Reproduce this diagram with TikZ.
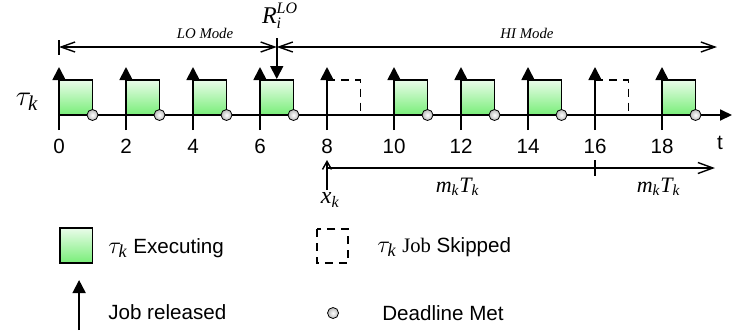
\documentclass[tikz,border=0pt]{standalone}
\usepackage{amsmath}
\usepackage{fontspec}
\setmainfont{Liberation Sans}
\newfontfamily\tms{Liberation Serif}
\usetikzlibrary{arrows.meta,positioning}
\newcommand\mi[1]{\text{\tms\itshape #1}}
\newcommand\tk{$\tau_{\mi{k}}$}
\definecolor{jgreen}{HTML}{78EE78}
\definecolor{jlight}{HTML}{EAFCEA}
\tikzset{
  job/.style={draw=black,line width=0.9pt,top color=jlight,bottom color=jgreen},
  skip/.style={draw=black,line width=0.9pt,dash pattern=on 4pt off 3pt},
  dl/.style={circle,draw=black,line width=0.4pt,inner sep=0pt,minimum size=5.5pt,inner color=white,outer color=gray!55},
  rel/.style={-{Triangle[length=6.5pt,width=6.5pt]},line width=0.9pt},
  axis/.style={-{Triangle[length=6pt,width=5.5pt]},line width=0.9pt},
  mode/.style={{Straight Barb[length=7pt,width=5pt]}-{Straight Barb[length=7pt,width=5pt]},line width=0.7pt},
  per/.style={-{Straight Barb[length=7.5pt,width=5.5pt]},line width=0.7pt},
  num/.style={font=\fontsize{10.3}{12}\selectfont,inner sep=0pt},
  txt/.style={font=\fontsize{10.3}{12}\selectfont,inner sep=0pt,anchor=west},
  lbl/.style={font=\tms\itshape\fontsize{7.4}{9}\selectfont,inner sep=0pt},
  mth/.style={font=\fontsize{11}{12}\selectfont,inner sep=0pt},
}
\begin{document}
\begin{tikzpicture}[x=16.75pt,y=-0.5pt]
  \useasboundingbox (-1.7612,0) rectangle (20.1194,334);
  \foreach \t in {0,2,4,6,10,12,14,18} { \draw[job] (\t,80) rectangle ({\t+1},115); }
  \foreach \t in {8,16} { \draw[skip] (\t,80) -- ({\t+1},80) -- ({\t+1},115); }
  \coordinate (o) at (0,115);
  \coordinate (tend) at (20.09,115);
  \draw[axis] (o) -- (tend);
  \foreach \t in {0,2,...,18} {
    \draw[rel] (\t,130) -- (\t,67);
    \node[num] (l\t) at (\t,146) {\t};
  }
  \foreach \t in {0,2,4,6,10,12,14,18} { \node[dl] (d\t) at ({\t+1},115) {}; }
  \node[num] (tl) at (19.73,143) {t};
  \node[mth,font=\fontsize{15}{16}\selectfont] (tau) at (-0.95,102) {\tk};
  \coordinate (m0) at (0,47);
  \coordinate (mr) at (6.5,47);
  \coordinate (mend) at (19.64,47);
  \draw[line width=0.7pt] (0,40) -- (0,55);
  \draw[mode] (m0) -- (mr);
  \draw[mode] (mr) -- (mend);
  \node[lbl] (lo) at (4.36,33) {LO Mode};
  \node[lbl] (hi) at (13.97,33) {HI Mode};
  \coordinate (rt) at (6.5,38);
  \coordinate (rb) at (6.5,79);
  \draw[rel] (rt) -- (rb);
  \node[mth,font=\fontsize{12}{13}\selectfont] (ri) at (6.6,16) {$\mi{R}_{\mi{i}}^{\mi{LO}}$};
  \coordinate (xb) at (8,190);
  \coordinate (xt) at (8,160);
  \draw[line width=0.7pt,-{Straight Barb[length=4pt,width=4.5pt]}] (xb) -- (xt);
  \node[mth,font=\fontsize{12}{13}\selectfont] (xk) at (8.1,200) {$\mi{x}_{\mi{k}}$};
  \coordinate (ps) at (8,168);
  \coordinate (pe) at (19.58,168);
  \draw[per] (ps) -- (pe);
  \draw[line width=0.7pt] (16,160) -- (16,176);
  \node[mth] (p1) at (11.9,187) {$\mi{m}_{\mi{k}}\mi{T}_{\mi{k}}$};
  \node[mth] (p2) at (17.9,187) {$\mi{m}_{\mi{k}}\mi{T}_{\mi{k}}$};
  \draw[job] (0.03,228) rectangle (1,263);
  \node[txt] (ex) at (1.46,248) {{\fontsize{13}{14}\selectfont\tk} Executing};
  \draw[skip] (7.7,229) rectangle (8.63,263);
  \node[txt] (sk) at (9.49,247) {{\fontsize{13}{14}\selectfont\tk} {\tms Job} Skipped};
  \coordinate (lb) at (0.6,330);
  \coordinate (la) at (0.6,280);
  \draw[rel] (lb) -- (la);
  \node[txt] (jr) at (1.46,312) {Job released};
  \node[dl] (dm) at (8.18,313) {};
  \node[txt] (dt) at (9.64,313) {Deadline Met};
\end{tikzpicture}
\end{document}
